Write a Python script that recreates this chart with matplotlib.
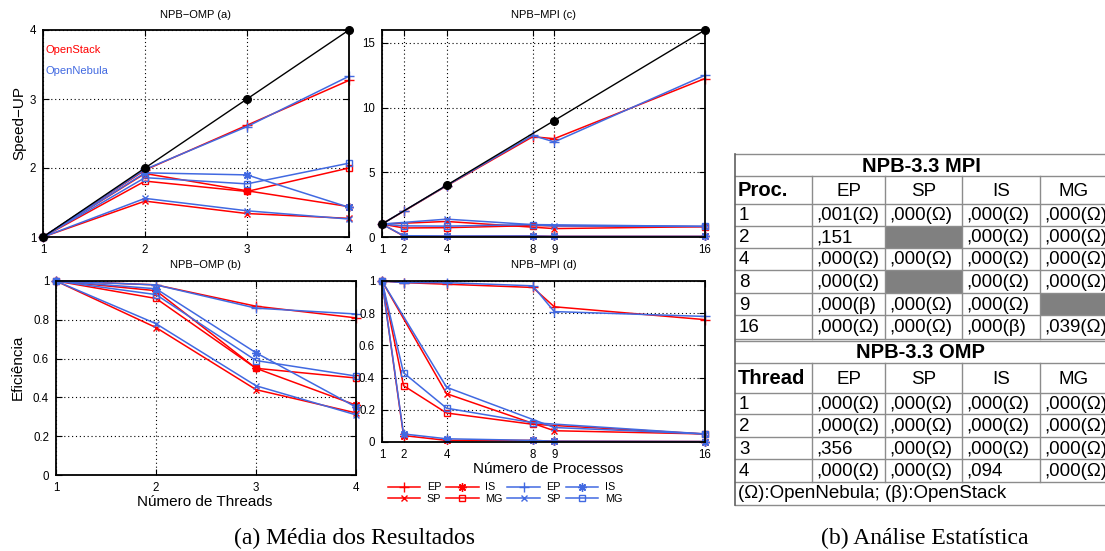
import matplotlib.pyplot as plt
from matplotlib.ticker import FormatStrFormatter
from matplotlib.patches import Rectangle

# figure size in pixels (dpi 100)
W, H = 1105, 551

RED = "#ff0000"
BLUE = "#4169e1"
SANS = "Liberation Sans"
plt.rcParams["font.family"] = [SANS, "DejaVu Sans"]

benchmarks = ["EP", "SP", "IS", "MG"]
markers = {"EP": "+", "SP": "x", "IS": (8, 2, 0), "MG": "s"}
msizes = {"EP": 6.5, "SP": 5, "IS": 6, "MG": 5}

# ---------------- OMP data (threads) ----------------
threads = [1, 2, 3, 4]
omp_ideal = [1, 2, 3, 4]

omp_speedup_stack = {"EP": [1, 1.97, 2.62, 3.27], "SP": [1, 1.52, 1.34, 1.27],
                     "IS": [1, 1.92, 1.67, 1.44], "MG": [1, 1.81, 1.66, 2.00]}
omp_speedup_nebula = {"EP": [1, 1.98, 2.60, 3.33], "SP": [1, 1.56, 1.38, 1.26],
                      "IS": [1, 1.93, 1.90, 1.43], "MG": [1, 1.86, 1.77, 2.07]}

omp_eff_stack = {"EP": [1, 0.98, 0.87, 0.81], "SP": [1, 0.76, 0.44, 0.32],
                 "IS": [1, 0.95, 0.55, 0.36], "MG": [1, 0.91, 0.55, 0.50]}
omp_eff_nebula = {"EP": [1, 0.98, 0.86, 0.83], "SP": [1, 0.78, 0.46, 0.31],
                  "IS": [1, 0.96, 0.63, 0.35], "MG": [1, 0.93, 0.59, 0.51]}

# ---------------- MPI data (processes) ----------------
procs = [1, 2, 4, 8, 9, 16]
procs_sp = [1, 4, 9, 16]
procs_mg = [1, 2, 4, 8, 16]
mpi_ideal = [1, 4, 9, 16]

mpi_speedup_stack = {"EP": [1, 1.98, 3.95, 7.75, 7.6, 12.25], "SP": [1, 1.2, 0.65, 0.8],
                     "IS": [1, 0.08, 0.05, 0.08, 0.05, 0.05], "MG": [1, 0.7, 0.72, 0.88, 0.8]}
mpi_speedup_nebula = {"EP": [1, 2.0, 3.97, 7.85, 7.35, 12.5], "SP": [1, 1.38, 0.85, 0.82],
                      "IS": [1, 0.1, 0.08, 0.08, 0.05, 0.05], "MG": [1, 0.86, 0.84, 0.96, 0.82]}

mpi_eff_stack = {"EP": [1, 0.99, 0.98, 0.96, 0.84, 0.76], "SP": [1, 0.30, 0.07, 0.05],
                 "IS": [1, 0.04, 0.01, 0.01, 0.005, 0.003], "MG": [1, 0.35, 0.18, 0.11, 0.05]}
mpi_eff_nebula = {"EP": [1, 0.99, 0.99, 0.97, 0.81, 0.78], "SP": [1, 0.34, 0.09, 0.05],
                  "IS": [1, 0.05, 0.02, 0.01, 0.005, 0.003], "MG": [1, 0.43, 0.21, 0.12, 0.05]}

omp_x = {name: threads for name in benchmarks}
mpi_x = {"EP": procs, "SP": procs_sp, "IS": procs, "MG": procs_mg}

# ---------------- table data ----------------
table_cols = ["EP", "SP", "IS", "MG"]
mpi_rows = ["1", "2", "4", "8", "9", "16"]
mpi_ep = [",001(Ω)", ",151", ",000(Ω)", ",000(Ω)", ",000(β)", ",000(Ω)"]
mpi_sp = [",000(Ω)", None, ",000(Ω)", None, ",000(Ω)", ",000(Ω)"]
mpi_is = [",000(Ω)", ",000(Ω)", ",000(Ω)", ",000(Ω)", ",000(Ω)", ",000(β)"]
mpi_mg = [",000(Ω)", ",000(Ω)", ",000(Ω)", ",000(Ω)", None, ",039(Ω)"]
omp_rows = ["1", "2", "3", "4"]
omp_ep = [",000(Ω)", ",000(Ω)", ",356", ",000(Ω)"]
omp_sp = [",000(Ω)", ",000(Ω)", ",000(Ω)", ",000(Ω)"]
omp_is = [",000(Ω)", ",000(Ω)", ",000(Ω)", ",094"]
omp_mg = [",000(Ω)", ",000(Ω)", ",000(Ω)", ",000(Ω)"]
footnote = "(Ω):OpenNebula; (β):OpenStack"


def box(left, top, right, bottom):
    return [left / W, 1 - bottom / H, (right - left) / W, (bottom - top) / H]


def fx(x):
    return x / W


def fy(y):
    return 1 - y / H


fig = plt.figure(figsize=(W / 100, H / 100), dpi=100)


def panel(rect, title, xs, stack, nebula, xticks, yticks, ylim, ideal=None):
    ax = fig.add_axes(box(*rect))
    handles = []
    for data, color in ((stack, RED), (nebula, BLUE)):
        for name in benchmarks:
            line, = ax.plot(xs[name], data[name], color=color, lw=1.1,
                            marker=markers[name], ms=msizes[name], mfc="none",
                            mew=1.0, clip_on=False, label=name)
            handles.append(line)
    if ideal is not None:
        ax.plot(ideal, ideal, color="black", lw=1.0, marker="o", ms=5.5,
                clip_on=False, zorder=5)
    ax.set_xlim(xticks[0], xticks[-1])
    ax.set_ylim(*ylim)
    ax.set_xticks(xticks)
    ax.set_yticks(yticks)
    ax.yaxis.set_major_formatter(FormatStrFormatter("%g"))
    ax.grid(True, color="black", lw=0.8, linestyle=(0, (1, 2.5)))
    ax.tick_params(direction="in", top=True, right=True, length=4, width=0.8,
                   labelsize=8.3, pad=5)
    for sp in ax.spines.values():
        sp.set_linewidth(1.3)
    ax.set_title(title, fontsize=8, pad=9)
    return ax, handles


panel((43, 30, 349, 237), "NPB−OMP (a)", omp_x, omp_speedup_stack,
      omp_speedup_nebula, threads, [1, 2, 3, 4], (1, 4), ideal=omp_ideal)
panel((56, 281, 356, 475), "NPB−OMP (b)", omp_x, omp_eff_stack,
      omp_eff_nebula, threads, [0, 0.2, 0.4, 0.6, 0.8, 1], (0, 1))
panel((382, 30, 705, 237), "NPB−MPI (c)", mpi_x, mpi_speedup_stack,
      mpi_speedup_nebula, procs, [0, 5, 10, 15], (0, 16), ideal=mpi_ideal)
ax_d, handles = panel((382, 281, 705, 442), "NPB−MPI (d)", mpi_x, mpi_eff_stack,
                      mpi_eff_nebula, procs, [0, 0.2, 0.4, 0.6, 0.8, 1], (0, 1))

# labels
fig.text(fx(46), fy(50), "OpenStack", color=RED, fontsize=8, va="center")
fig.text(fx(46), fy(71), "OpenNebula", color=BLUE, fontsize=8, va="center")
fig.text(fx(19), fy(123), "Speed−UP", rotation=90, fontsize=11, ha="center", va="center")
fig.text(fx(18), fy(367), "Eficiência", rotation=90, fontsize=11, ha="center", va="center")
fig.text(fx(205), fy(502), "Número de Threads", fontsize=11, ha="center", va="center")
fig.text(fx(548), fy(469), "Número de Processos", fontsize=11, ha="center", va="center")

fig.legend(handles=handles, ncol=4, loc="center", bbox_to_anchor=(fx(505), fy(493)),
           frameon=False, fontsize=7.8, handlelength=3.0, handletextpad=0.6,
           columnspacing=0.45, labelspacing=0.12, borderpad=0)

# ---------------- table ----------------
tab = fig.add_axes([0, 0, 1, 1], zorder=-1)
tab.set_xlim(0, W)
tab.set_ylim(H, 0)
tab.axis("off")

col_edges = [735, 812, 885, 962, 1040, 1107]
GRID = "#8c8c8c"
TFS = 13.5
BFS = 14.5


def section(top, title, row_title, rows, columns, row_h, header_h=28, title_h=22):
    y = top
    tab.plot([col_edges[0], col_edges[-1]], [y, y], color=GRID, lw=1)
    tab.text((col_edges[0] + col_edges[-1]) / 2, y + title_h / 2 + 1, title,
             fontsize=BFS, fontweight="bold", ha="center", va="center")
    y += title_h
    tab.plot([col_edges[0], col_edges[-1]], [y, y], color=GRID, lw=1)
    body_top = y
    tab.text(col_edges[0] + 3, y + header_h / 2 + 1, row_title, fontsize=BFS,
             fontweight="bold", ha="left", va="center")
    for i, name in enumerate(table_cols):
        tab.text((col_edges[i + 1] + col_edges[i + 2]) / 2, y + header_h / 2 + 1,
                 name, fontsize=TFS, ha="center", va="center")
    y += header_h
    tab.plot([col_edges[0], col_edges[-1]], [y, y], color=GRID, lw=1)
    for r, label in enumerate(rows):
        h = row_h[r]
        tab.text(col_edges[0] + 4, y + h / 2 + 1, label, fontsize=TFS,
                 ha="left", va="center")
        for c, values in enumerate(columns):
            v = values[r]
            if v is None:
                tab.add_patch(Rectangle((col_edges[c + 1], y),
                                        col_edges[c + 2] - col_edges[c + 1], h,
                                        color="#808080", lw=0))
            else:
                tab.text(col_edges[c + 1] + 4, y + h / 2 + 1, v, fontsize=TFS,
                         ha="left", va="center")
        y += h
        tab.plot([col_edges[0], col_edges[-1]], [y, y], color=GRID, lw=1)
    for xe in col_edges[1:-1]:
        tab.plot([xe, xe], [body_top, y], color=GRID, lw=1)
    return top, y


t0, y1 = section(154, "NPB-3.3 MPI", "Proc.", mpi_rows,
                 [mpi_ep, mpi_sp, mpi_is, mpi_mg], [22, 22, 22, 23, 22, 24])
t1, y2 = section(y1 + 2, "NPB-3.3 OMP", "Thread", omp_rows,
                 [omp_ep, omp_sp, omp_is, omp_mg], [21, 23, 22, 23], header_h=30)
tab.text(col_edges[0] + 3, y2 + 11.5, footnote, fontsize=TFS, ha="left", va="center")
y3 = y2 + 23
tab.plot([col_edges[0], col_edges[-1]], [y3, y3], color=GRID, lw=1)
for xe in (col_edges[0], col_edges[-1]):
    tab.plot([xe, xe], [t0, y3], color="#606060", lw=1.2)

# captions
tab.text(355, 538, "(a) Média dos Resultados", fontsize=17, family="Liberation Serif",
         ha="center", va="center")
tab.text(925, 538, "(b) Análise Estatística", fontsize=17, family="Liberation Serif",
         ha="center", va="center")

fig.savefig("out.png", dpi=100)
